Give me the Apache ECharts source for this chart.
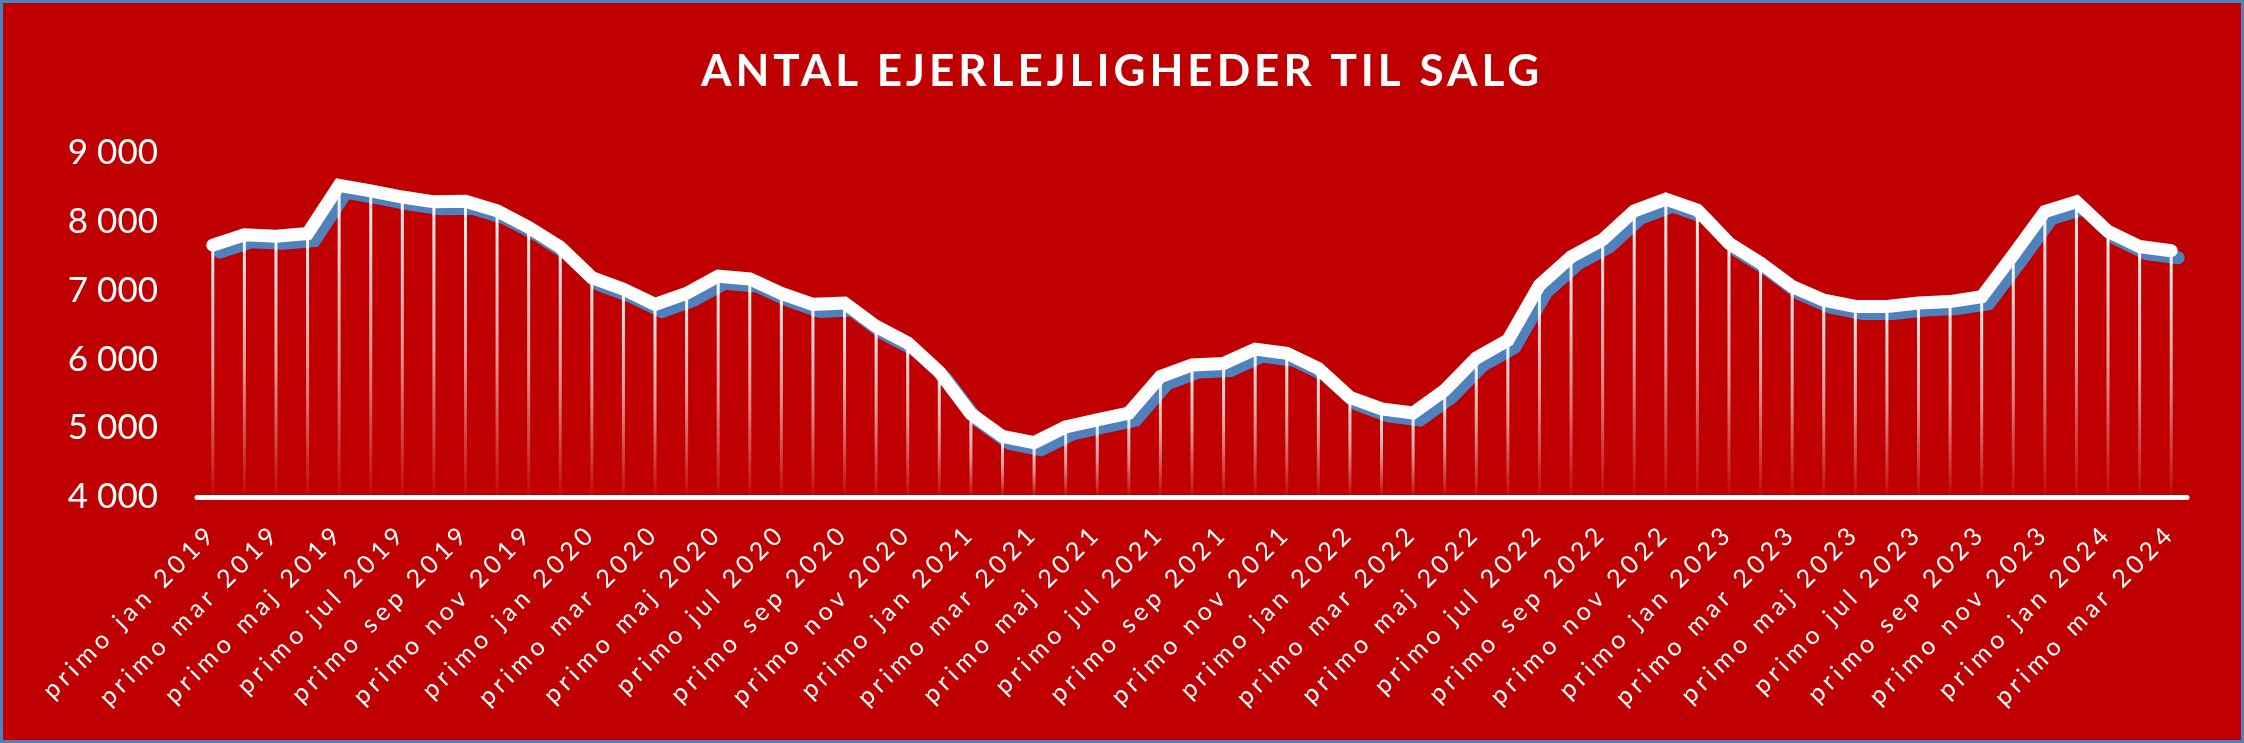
<!DOCTYPE html>
<html>
<head>
<meta charset="utf-8">
<script src="https://cdn.jsdelivr.net/npm/echarts@6/dist/echarts.min.js"></script>
<style>
    html, body { margin: 0; padding: 0; background: #c00000; }
    #chart { position: absolute; left: 0; top: 0; width: 2244px; height: 743px; }
    #frame { position: absolute; left: 0; top: 0; width: 2244px; height: 743px;
             box-sizing: border-box; border: 3px solid #4f81bd; pointer-events: none; }
</style>
</head>
<body>
<div id="chart"></div>
<div id="frame"></div>
<script>
// month names (Danish) and years for the category axis
const months = ['jan', 'feb', 'mar', 'apr', 'maj', 'jun', 'jul', 'aug', 'sep', 'okt', 'nov', 'dec'];
const years = [2019, 2020, 2021, 2022, 2023, 2024];

const categories = [];
years.forEach(function (y) {
    months.forEach(function (m) {
        if (categories.length < 63) categories.push('primo ' + m + ' ' + y);
    });
});

// number of flats for sale, start of each month
const listings = [
    7660, 7810, 7790, 7830, 8530, 8450, 8360, 8290, 8300, 8160,
    7920, 7630, 7190, 7020, 6800, 6960, 7210, 7170, 6960, 6800,
    6820, 6480, 6240, 5820, 5210, 4880, 4790, 5020, 5120, 5220,
    5750, 5920, 5940, 6150, 6090, 5870, 5450, 5280, 5220, 5550,
    6020, 6280, 7080, 7490, 7740, 8160, 8330, 8170, 7690, 7400,
    7060, 6860, 6770, 6770, 6820, 6840, 6910, 7520, 8150, 8290,
    7860, 7640, 7580
];

const yTicks = [4000, 5000, 6000, 7000, 8000, 9000];

// echarts has no letter spacing, so set it on the canvas per font size
const spacingBySize = { '44px': '4px', '25px': '4.8px' };
const baseFill = CanvasRenderingContext2D.prototype.fillText;
CanvasRenderingContext2D.prototype.fillText = function (text, x, y, maxW) {
    const m = /(\d+)px/.exec(this.font);
    this.letterSpacing = (m && spacingBySize[m[1] + 'px']) || '0px';
    return maxW === undefined ? baseFill.call(this, text, x, y) : baseFill.call(this, text, x, y, maxW);
};

const chart = echarts.init(document.getElementById('chart'));
const option = {
    backgroundColor: '#c00000',
    animation: false,
    title: {
        text: 'ANTAL EJERLEJLIGHEDER TIL SALG',
        left: 'center',
        top: 45,
        textStyle: {
            color: '#fff',
            fontSize: 44,
            fontWeight: 'bold',
            fontFamily: 'Lato, "Open Sans", sans-serif'
        }
    },
    grid: {
        left: 197,
        right: 57,
        top: 153,
        bottom: 246,
        outerBoundsMode: 'none'
    },
    xAxis: {
        type: 'category',
        data: categories,
        boundaryGap: true,
        axisLine: { lineStyle: { color: '#fff', width: 5 } },
        axisTick: { show: false },
        axisLabel: {
            interval: 1,
            rotate: 45,
            margin: 32,
            color: '#fff',
            fontSize: 25,
            fontFamily: 'Lato, "Open Sans", sans-serif'
        }
    },
    yAxis: {
        type: 'value',
        min: yTicks[0],
        max: yTicks[yTicks.length - 1],
        interval: 1000,
        axisLine: { show: false },
        axisTick: { show: false },
        splitLine: { show: false },
        axisLabel: {
            margin: 39,
            color: '#fff',
            fontSize: 35,
            fontFamily: 'Lato, "Open Sans", sans-serif',
            formatter: function (v) {
                return String(v).replace(/\B(?=(\d{3})+(?!\d))/g, ' ');
            }
        }
    },
    series: [
        {
            name: 'Ejerlejligheder',
            type: 'line',
            data: listings,
            symbol: 'none',
            z: 2,
            lineStyle: {
                color: '#fff',
                width: 13,
                cap: 'round',
                join: 'miter',
                shadowColor: '#4f81bd',
                shadowBlur: 0,
                shadowOffsetX: 7,
                shadowOffsetY: 7
            }
        },
        {
            name: 'drop',
            type: 'bar',
            data: listings,
            barWidth: 3,
            z: 3,
            silent: true,
            itemStyle: {
                color: new echarts.graphic.LinearGradient(0, 0, 0, 1, [
                    { offset: 0, color: 'rgba(255,255,255,0.95)' },
                    { offset: 0.5, color: 'rgba(255,255,255,0.6)' },
                    { offset: 1, color: 'rgba(255,255,255,0.03)' }
                ])
            }
        }
    ]
};
chart.setOption(option);
</script>
</body>
</html>
